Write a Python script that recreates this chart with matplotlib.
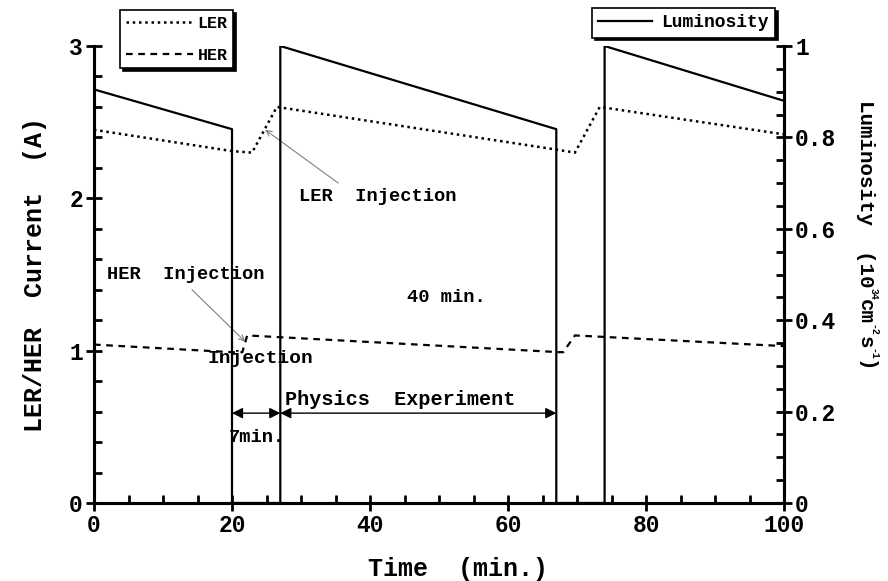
import matplotlib
matplotlib.use("Agg")
import matplotlib.pyplot as plt
from matplotlib.ticker import MultipleLocator, FuncFormatter
from matplotlib.transforms import IdentityTransform

plt.rcParams["font.family"] = ["Liberation Mono", "DejaVu Sans Mono"]
plt.rcParams["font.weight"] = "bold"

# Luminosity over two fill cycles (10^34 cm^-2 s^-1)
lum_t = [0, 20, 20, 27, 27, 67, 67, 74, 74, 100]
lum = [0.905, 0.818, 0, 0, 1.0, 0.818, 0, 0, 1.0, 0.88]

# Beam currents (A)
ler_t = [0, 20, 22.9, 26.5, 67, 69.7, 73.3, 100]
ler = [2.45, 2.31, 2.30, 2.60, 2.32, 2.30, 2.60, 2.42]
her_t = [0, 20, 21.5, 22.2, 67.5, 68.0, 69.7, 100]
her = [1.04, 0.99, 0.99, 1.10, 0.99, 0.99, 1.10, 1.03]

# Right axis label pieces: (text, is_superscript)
lum_label = [("Luminosity  (10", False), ("34", True), ("cm", False),
             ("-2", True), ("s", False), ("-1", True), (")", False)]

fig = plt.figure(figsize=(8.88, 5.81), dpi=100)
ax = fig.add_axes([94 / 888, 78 / 581, 690 / 888, 457 / 581])
ax2 = ax.twinx()

(ler_line,) = ax.plot(ler_t, ler, color="black", lw=1.8, linestyle=(0, (1, 1.5)), label="LER")
(her_line,) = ax.plot(her_t, her, color="black", lw=1.6, linestyle=(0, (3, 2.5)), label="HER")
(lum_line,) = ax2.plot(lum_t, lum, color="black", lw=1.6, label="Luminosity")

ax.set_xlim(0, 100)
ax.set_ylim(0, 3)
ax2.set_ylim(0, 1)

for a in (ax, ax2):
    a.spines["top"].set_visible(False)
    for s in a.spines.values():
        s.set_linewidth(2.2)

ax.xaxis.set_major_locator(MultipleLocator(20))
ax.xaxis.set_minor_locator(MultipleLocator(5))
ax.yaxis.set_major_locator(MultipleLocator(1))
ax.yaxis.set_minor_locator(MultipleLocator(0.2))
ax2.yaxis.set_major_locator(MultipleLocator(0.2))
ax2.yaxis.set_minor_locator(MultipleLocator(0.05))
ax2.yaxis.set_major_formatter(
    FuncFormatter(lambda v, pos: "0" if abs(v) < 1e-9 else ("1" if abs(v - 1) < 1e-9 else f"{v:.1f}")))
for a in (ax, ax2):
    a.tick_params(which="major", direction="inout", length=12, width=2, labelsize=16.5, pad=2)
    a.tick_params(which="minor", direction="in", length=6, width=2)

ax.set_xlabel("Time  (min.)", fontsize=18, fontweight="bold")
ax.xaxis.set_label_coords(0.528, -0.118)
ax.set_ylabel("LER/HER  Current  (A)", fontsize=18, fontweight="bold", labelpad=16)

# Right label built piece by piece so the exponents stay small
renderer = fig.canvas.get_renderer()
y_pos = 581 - 100
for piece, sup in lum_label:
    t = fig.text(874 if sup else 865, y_pos, piece, fontsize=7 if sup else 15,
                 rotation=-90, ha="center", va="top", transform=IdentityTransform())
    y_pos = t.get_window_extent(renderer).y0

# Annotations
ann = dict(fontsize=13.5, ha="left", va="center")
arrow_kw = dict(arrowstyle="->", color="gray", lw=0.8, shrinkA=0, shrinkB=0)
ax.annotate("", xy=(24.8, 2.45), xytext=(35.4, 2.10), arrowprops=arrow_kw)
ax.text(29.7, 2.01, "LER  Injection", **ann)
ax.annotate("", xy=(21.9, 1.06), xytext=(14.2, 1.40), arrowprops=arrow_kw)
ax.text(1.9, 1.50, "HER  Injection", **ann)
ax.text(45.4, 1.35, "40 min.", **ann)
ax.text(16.4, 0.95, "Injection", fontsize=14, ha="left", va="center")
ax.text(19.6, 0.43, "7min.", **ann)
ax.text(44.4, 0.68, "Physics  Experiment", fontsize=14.5, ha="center", va="center")

dbl_kw = dict(arrowstyle="<|-|>", color="black", lw=1.0, mutation_scale=16,
              shrinkA=0, shrinkB=0)
ax.annotate("", xy=(20, 0.59), xytext=(27, 0.59), arrowprops=dbl_kw)
ax.annotate("", xy=(27, 0.59), xytext=(67, 0.59), arrowprops=dbl_kw)

shadow = {"color": "black", "alpha": 1.0}
leg1 = fig.legend(handles=[ler_line, her_line], loc="upper left",
                  bbox_to_anchor=(120 / 888, 1 - 10 / 581), fontsize=12,
                  frameon=True, fancybox=False, shadow=shadow, handlelength=4.0,
                  labelspacing=1.0, borderpad=0.35, handletextpad=0.3, borderaxespad=0)
leg1.get_frame().set_edgecolor("black")
leg1.get_frame().set_linewidth(1.2)
leg2 = fig.legend(handles=[lum_line], loc="upper left",
                  bbox_to_anchor=(592 / 888, 1 - 8 / 581), fontsize=13,
                  frameon=True, fancybox=False, shadow=shadow, handlelength=3.0,
                  borderpad=0.35, handletextpad=0.5, borderaxespad=0)
leg2.get_frame().set_edgecolor("black")
leg2.get_frame().set_linewidth(1.2)

fig.savefig("out.png", dpi=100)
